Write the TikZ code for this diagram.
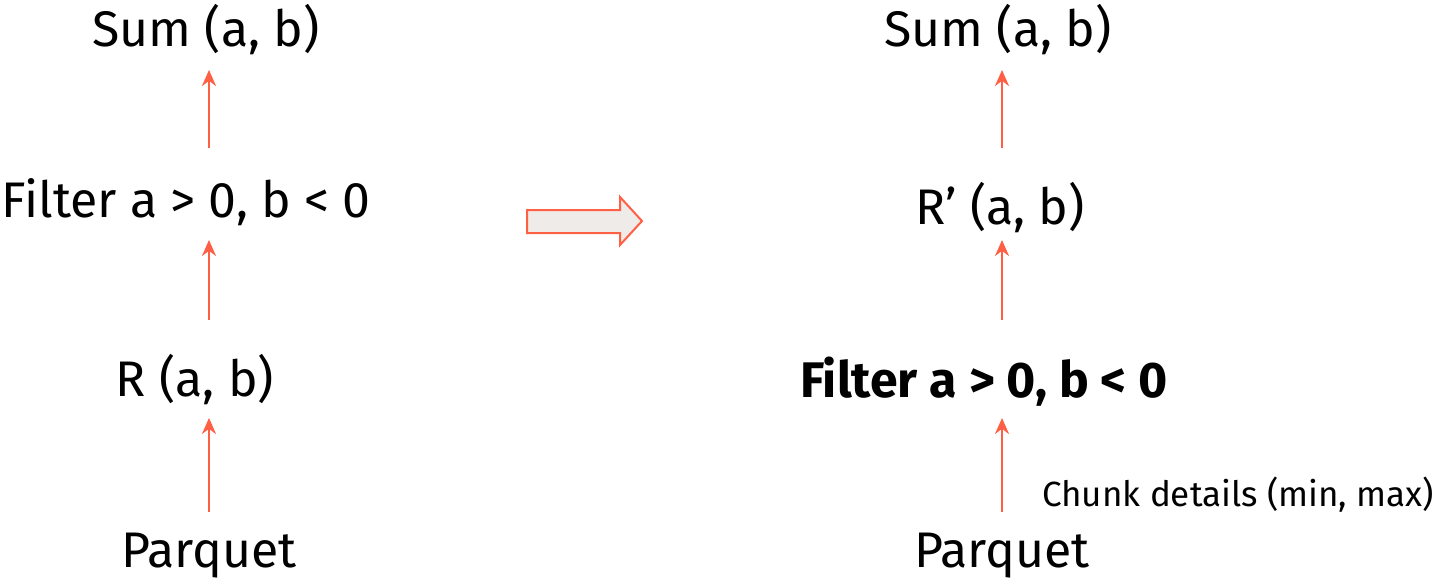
\documentclass[tikz,border=0pt]{standalone}
\usepackage{fontspec}
\setmainfont{Fira Sans}
\usetikzlibrary{arrows.meta}
\definecolor{flow}{HTML}{FF5F45}
\definecolor{pale}{HTML}{EEEBE8}
\tikzset{
  lbl/.style={font=\fontsize{50}{54}\selectfont, inner sep=0pt},
  boldlbl/.style={lbl, font=\fontsize{50}{54}\selectfont\bfseries},
  small/.style={font=\fontsize{35}{39}\selectfont, inner sep=0pt},
  up/.style={draw=flow, line width=2.5pt, -{Stealth[length=16pt,width=14pt]}},
}
\begin{document}
\begin{tikzpicture}[x=1pt,y=-1pt]
\useasboundingbox (0,0) rectangle (1441,583);
% original plan
\node[lbl] (ls) at (206,30) {Sum (a, b)};
\node[lbl] (lf) at (186,202) {Filter a > 0, b < 0};
\node[lbl] (lr) at (195,380) {R (a, b)};
\node[lbl] (lp) at (209,556) {Parquet};
\coordinate (l1s) at (209,148); \coordinate (l1e) at (209,70);
\coordinate (l2s) at (209,320); \coordinate (l2e) at (209,240);
\coordinate (l3s) at (209,512); \coordinate (l3e) at (209,418);
\draw[up] (l1s) -- (l1e);
\draw[up] (l2s) -- (l2e);
\draw[up] (l3s) -- (l3e);
% rewrite arrow
\draw[draw=flow, fill=pale, line width=2pt, line join=miter]
  (527,210) -- (620,210) -- (620,197) -- (642,221) -- (620,245) -- (620,233) -- (527,233) -- cycle;
% pushed-down plan
\node[lbl] (rs) at (998,30) {Sum (a, b)};
\node[lbl] (rr) at (1000,208) {R’ (a, b)};
\node[boldlbl] (rf) at (984,382) {Filter a > 0, b < 0};
\node[lbl] (rp) at (1002,556) {Parquet};
\node[small, anchor=west] (chunk) at (1042,495) {Chunk details (min, max)};
\coordinate (r1s) at (1002,148); \coordinate (r1e) at (1002,70);
\coordinate (r2s) at (1002,320); \coordinate (r2e) at (1002,240);
\coordinate (r3s) at (1002,512); \coordinate (r3e) at (1002,418);
\draw[up] (r1s) -- (r1e);
\draw[up] (r2s) -- (r2e);
\draw[up] (r3s) -- (r3e);
\end{tikzpicture}
\end{document}
